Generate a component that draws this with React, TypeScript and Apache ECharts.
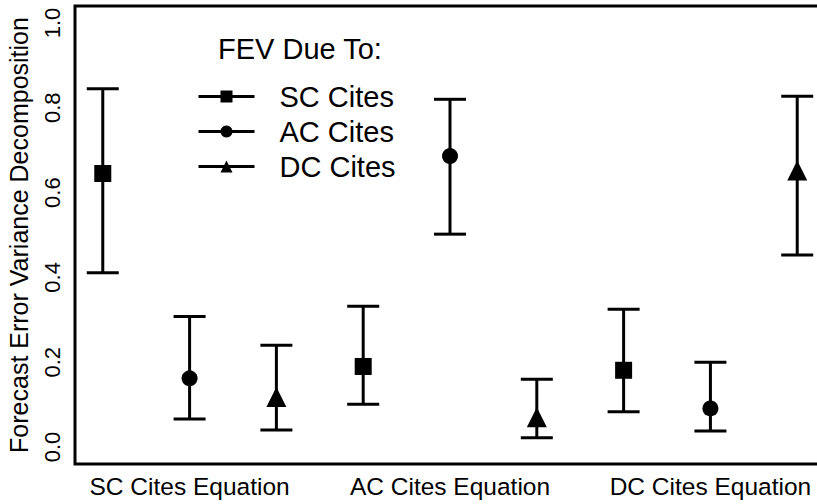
import React, { useEffect, useRef } from "react";
import * as echarts from "echarts";

const equations = ["SC Cites Equation", "AC Cites Equation", "DC Cites Equation"];
const sources = ["SC Cites", "AC Cites", "DC Cites"];
const symbols = ["rect", "circle", "triangle"];
const symbolSizes = [17, 16, 20];

// per source: values for each equation (SC eq, AC eq, DC eq)
const scMedian = [0.645, 0.19, 0.181];
const scLow = [0.411, 0.101, 0.083];
const scHigh = [0.845, 0.332, 0.325];

const acMedian = [0.162, 0.686, 0.091];
const acLow = [0.066, 0.502, 0.038];
const acHigh = [0.308, 0.82, 0.2];

const dcMedian = [0.118, 0.07, 0.652];
const dcLow = [0.04, 0.022, 0.453];
const dcHigh = [0.24, 0.16, 0.827];

const yTicks = [0, 0.2, 0.4, 0.6, 0.8, 1.0];

const medians = [scMedian, acMedian, dcMedian];
const lows = [scLow, acLow, dcLow];
const highs = [scHigh, acHigh, dcHigh];

const FONT = "Liberation Sans";

export default function App() {
  const ref = useRef<HTMLDivElement>(null);

  useEffect(() => {
    if (!ref.current) return;
    const chart = echarts.init(ref.current, null, { renderer: "svg" });

    const pos = (eq: number, src: number) => eq * 3 + src + 1;
    const eqPositions = equations.map((_, i) => pos(i, 1));

    const barData: number[][] = [];
    sources.forEach((_, s) => {
      equations.forEach((_, e) => {
        barData.push([pos(e, s), lows[s][e], highs[s][e]]);
      });
    });

    const pointSeries = sources.map((name, s) => ({
      name,
      type: "line",
      symbol: symbols[s],
      symbolSize: symbolSizes[s],
      z: 5,
      itemStyle: { color: "#000" },
      lineStyle: { color: "#000", width: 3, opacity: 0 },
      data: equations.map((_, e) => [pos(e, s), medians[s][e]]),
      silent: true,
    }));

    chart.setOption({
      animation: false,
      backgroundColor: "#fff",
      title: {
        text: "FEV Due To:",
        left: 218,
        top: 34,
        padding: 0,
        textStyle: { fontFamily: FONT, fontSize: 29, fontWeight: "normal", color: "#000" },
      },
      legend: {
        data: sources,
        orient: "vertical",
        left: 197,
        top: 82,
        itemWidth: 56,
        itemHeight: 15,
        itemGap: 6,
        padding: 0,
        lineStyle: { color: "#000", width: 3, opacity: 1 },
        textStyle: { fontFamily: FONT, fontSize: 29, color: "#000", padding: [0, 0, 0, 20] },
      },
      grid: {
        left: 75,
        top: 6,
        right: -8,
        bottom: 40,
        show: true,
        borderColor: "#000",
        borderWidth: 3,
        containLabel: false,
        outerBoundsMode: "none",
      },
      xAxis: {
        type: "value",
        min: 0.68,
        max: 9.32,
        axisLine: { show: false },
        axisTick: { show: false },
        splitLine: { show: false },
        axisLabel: {
          customValues: eqPositions,
          formatter: (v: number) => {
            const i = eqPositions.indexOf(Math.round(v));
            return i >= 0 ? equations[i] : "";
          },
          margin: 10,
          fontFamily: FONT,
          fontSize: 24.5,
          color: "#000",
          hideOverlap: false,
        },
      },
      yAxis: {
        type: "value",
        min: -0.04,
        max: 1.04,
        name: "Forecast Error Variance Decomposition",
        nameLocation: "middle",
        nameGap: 44,
        nameTextStyle: { fontFamily: FONT, fontSize: 25, color: "#000" },
        axisLine: { show: false },
        axisTick: { show: false },
        splitLine: { show: false },
        axisLabel: {
          customValues: yTicks,
          formatter: (v: number) => v.toFixed(1),
          rotate: 90,
          margin: 12,
          fontFamily: FONT,
          fontSize: 22,
          color: "#000",
        },
      },
      series: [
        {
          type: "custom",
          z: 2,
          silent: true,
          data: barData,
          renderItem: (params: any, api: any) => {
            const x = api.value(0);
            const pLo = api.coord([x, api.value(1)]);
            const pHi = api.coord([x, api.value(2)]);
            const half = 16;
            const style = { stroke: "#000", lineWidth: 3 };
            return {
              type: "group",
              children: [
                { type: "line", shape: { x1: pLo[0], y1: pLo[1], x2: pHi[0], y2: pHi[1] }, style },
                { type: "line", shape: { x1: pLo[0] - half, y1: pLo[1], x2: pLo[0] + half, y2: pLo[1] }, style },
                { type: "line", shape: { x1: pHi[0] - half, y1: pHi[1], x2: pHi[0] + half, y2: pHi[1] }, style },
              ],
            };
          },
        },
        ...pointSeries,
      ],
    });

    return () => chart.dispose();
  }, []);

  return (
    <div
      ref={ref}
      style={{ position: "absolute", left: 0, top: 0, width: 817, height: 504 }}
    />
  );
}
